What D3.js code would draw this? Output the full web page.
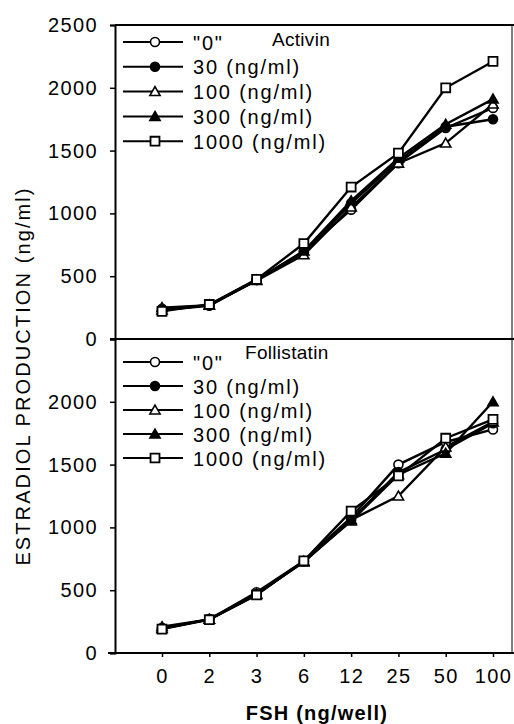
<!DOCTYPE html>
<html>
<head>
<meta charset="utf-8">
<script src="https://cdn.jsdelivr.net/npm/d3@7"></script>
<style>
  body { margin: 0; background: #fff; }
  svg { font-family: "Liberation Sans", Arial, sans-serif; }
  .tick text { font-size: 20px; letter-spacing: 1.4px; fill: #000; }
</style>
</head>
<body>
<svg id="chart" width="514" height="724"></svg>
<script>
// FSH doses on the x axis (categorical)
const fshLevels = ["0", "2", "3", "6", "12", "25", "50", "100"];
const seriesLabels = ["\"0\"", "30 (ng/ml)", "100 (ng/ml)", "300 (ng/ml)", "1000 (ng/ml)"];
const seriesShapes = ["circleOpen", "circleFilled", "triangleOpen", "triangleFilled", "squareOpen"];
const yTicksTop = [0, 500, 1000, 1500, 2000, 2500];
const yTicksBottom = [0, 500, 1000, 1500, 2000];

// Activin panel values (estradiol, ng/ml)
const activinZero = [240, 270, 470, 700, 1030, 1400, 1680, 1840];
const activin30 = [230, 265, 470, 690, 1080, 1420, 1690, 1750];
const activin100 = [250, 270, 465, 670, 1050, 1400, 1560, 1870];
const activin300 = [230, 270, 470, 700, 1100, 1440, 1710, 1910];
const activin1000 = [220, 275, 475, 760, 1210, 1480, 2000, 2210];

// Follistatin panel values
const follistatinZero = [200, 268, 484, 733, 1080, 1500, 1680, 1780];
const follistatin30 = [195, 268, 470, 730, 1060, 1440, 1620, 1830];
const follistatin100 = [210, 268, 470, 725, 1060, 1250, 1640, 1840];
const follistatin300 = [195, 268, 465, 730, 1050, 1420, 1590, 2000];
const follistatin1000 = [190, 265, 462, 733, 1130, 1410, 1710, 1860];

const activinSeries = [activinZero, activin30, activin100, activin300, activin1000];
const follistatinSeries = [follistatinZero, follistatin30, follistatin100, follistatin300, follistatin1000];

const svg = d3.select("#chart");
const left = 115, right = 512;

const x = d3.scalePoint()
    .domain(fshLevels)
    .range([162, 493]);

const yTop = d3.scaleLinear().domain([0, 2500]).range([339, 25]);
const yBottom = d3.scaleLinear().domain([0, 2500]).range([653, 339]);

// frame lines
svg.append("line").attr("x1", left).attr("x2", 514).attr("y1", 25).attr("y2", 25)
    .attr("stroke", "#000").attr("stroke-width", 2);
svg.append("line").attr("x1", right).attr("x2", right).attr("y1", 25).attr("y2", 653)
    .attr("stroke", "#000").attr("stroke-width", 1);
svg.append("line").attr("x1", 110).attr("x2", 514).attr("y1", 339).attr("y2", 339)
    .attr("stroke", "#000").attr("stroke-width", 2);

// y axes
function drawYAxis(scale, ticks) {
    const g = svg.append("g")
        .attr("transform", `translate(${left},0)`)
        .call(d3.axisLeft(scale).tickValues(ticks).tickFormat(d3.format("d")).tickSize(5).tickPadding(12));
    g.select(".domain").attr("stroke", "#000").attr("stroke-width", 2);
    g.selectAll(".tick line").attr("stroke", "#000").attr("stroke-width", 1.5);
    return g;
}
drawYAxis(yTop, yTicksTop);
drawYAxis(yBottom, yTicksBottom);

// x axis
const xAxis = svg.append("g")
    .attr("transform", "translate(0,653)")
    .call(d3.axisBottom(x).tickSize(4).tickPadding(12));
xAxis.select(".domain").remove();
xAxis.selectAll(".tick line").attr("stroke", "#000").attr("stroke-width", 1.5);
svg.append("line").attr("x1", 108).attr("x2", 514).attr("y1", 653).attr("y2", 653)
    .attr("stroke", "#000").attr("stroke-width", 2);

// markers
const triangle = d3.symbol().type(d3.symbolTriangle).size(45);
const square = d3.symbol().type(d3.symbolSquare).size(80);

function drawMarker(g, shape, cx, cy) {
    const filled = shape.endsWith("Filled");
    if (shape.startsWith("circle")) {
        g.append("circle").attr("cx", cx).attr("cy", cy).attr("r", 4.5)
            .attr("fill", filled ? "#000" : "#fff").attr("stroke", "#000").attr("stroke-width", 1.6);
    } else if (shape.startsWith("triangle")) {
        g.append("path").attr("d", triangle()).attr("transform", `translate(${cx},${cy + 1})`)
            .attr("fill", filled ? "#000" : "#fff").attr("stroke", "#000").attr("stroke-width", 1.6);
    } else {
        g.append("path").attr("d", square()).attr("transform", `translate(${cx},${cy})`)
            .attr("fill", "#fff").attr("stroke", "#000").attr("stroke-width", 1.8);
    }
}

const line = d3.line();

function drawPanel(seriesList, y) {
    const g = svg.append("g");
    seriesList.forEach((values, i) => {
        const pts = values.map((v, j) => [x(fshLevels[j]), y(v)]);
        g.append("path").attr("d", line(pts))
            .attr("fill", "none").attr("stroke", "#000").attr("stroke-width", 2.4);
    });
    seriesList.forEach((values, i) => {
        values.forEach((v, j) => drawMarker(g, seriesShapes[i], x(fshLevels[j]), y(v)));
    });
}
drawPanel(activinSeries, yTop);
drawPanel(follistatinSeries, yBottom);

// legends
function drawLegend(startY, step, title, titleX, titleY) {
    const g = svg.append("g");
    seriesLabels.forEach((label, i) => {
        const cy = startY + i * step;
        g.append("line").attr("x1", 123).attr("x2", 183).attr("y1", cy).attr("y2", cy)
            .attr("stroke", "#000").attr("stroke-width", 2);
        drawMarker(g, seriesShapes[i], 155, cy);
        g.append("text").attr("x", 193).attr("y", cy + 7.5)
            .attr("font-size", 20).attr("letter-spacing", 1.8)
            .text(label);
    });
    g.append("text").attr("x", titleX).attr("y", titleY)
        .attr("font-size", 19).attr("letter-spacing", 0.3).text(title);
}
drawLegend(42, 24.8, "Activin", 272, 46);
drawLegend(362, 24, "Follistatin", 245, 359);

// axis titles
svg.append("text")
    .attr("transform", "translate(30,376) rotate(-90)")
    .attr("text-anchor", "middle")
    .attr("font-size", 20).attr("letter-spacing", 2.1)
    .text("ESTRADIOL PRODUCTION (ng/ml)");

svg.append("text")
    .attr("x", 317).attr("y", 720)
    .attr("text-anchor", "middle")
    .attr("font-size", 20).attr("font-weight", "bold").attr("letter-spacing", 1.2)
    .text("FSH (ng/well)");
</script>
</body>
</html>
